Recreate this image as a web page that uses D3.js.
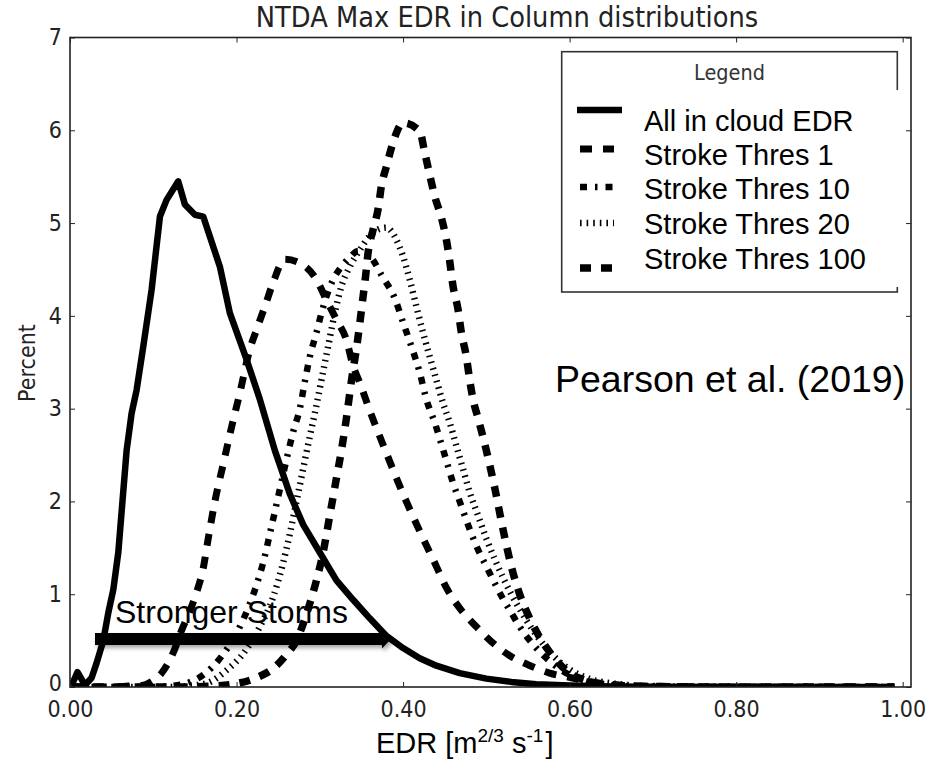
<!DOCTYPE html>
<html>
<head>
<meta charset="utf-8">
<script src="https://cdn.jsdelivr.net/npm/d3@7"></script>
<style>
  body { margin: 0; background: #fff; }
  svg { display: block; }
</style>
</head>
<body>
<svg id="chart" width="929" height="765"></svg>
<script>
// ---- data -------------------------------------------------------------
const xTicks = [0.0, 0.2, 0.4, 0.6, 0.8, 1.0];
const yTicks = [0, 1, 2, 3, 4, 5, 6, 7];
const legendLabels = ["All in cloud EDR", "Stroke Thres 1", "Stroke Thres 10", "Stroke Thres 20", "Stroke Thres 100"];

// [EDR, percent] pairs for each distribution
const allCloud = [[0.002,0.02],[0.009,0.16],[0.018,0.02],[0.026,0.1],[0.032,0.26],[0.040,0.5],[0.046,0.8],[0.052,1.05],[0.058,1.45],[0.063,2.0],[0.068,2.55],[0.074,2.95],[0.080,3.2],[0.088,3.67],[0.098,4.28],[0.108,5.07],[0.116,5.25],[0.130,5.45],[0.138,5.20],[0.150,5.09],[0.160,5.07],[0.180,4.53],[0.192,4.03],[0.212,3.53],[0.228,3.10],[0.246,2.55],[0.264,2.08],[0.28,1.75],[0.30,1.45],[0.32,1.15],[0.34,0.94],[0.36,0.74],[0.38,0.55],[0.40,0.42],[0.42,0.31],[0.44,0.23],[0.468,0.15],[0.50,0.09],[0.53,0.055],[0.56,0.03],[0.60,0.015],[0.65,0.006],[0.70,0.002],[0.80,0.0],[0.99,0.0]];
const thres1 = [[0.002,0.0],[0.05,0.0],[0.07,0.01],[0.088,0.02],[0.10,0.07],[0.110,0.15],[0.118,0.26],[0.124,0.37],[0.134,0.61],[0.144,0.82],[0.152,1.02],[0.160,1.28],[0.166,1.6],[0.174,2.0],[0.184,2.4],[0.194,2.8],[0.204,3.17],[0.216,3.64],[0.224,3.85],[0.234,4.10],[0.244,4.36],[0.258,4.61],[0.276,4.57],[0.296,4.39],[0.308,4.17],[0.320,3.96],[0.332,3.74],[0.340,3.46],[0.348,3.28],[0.36,2.98],[0.38,2.52],[0.40,2.08],[0.42,1.68],[0.44,1.3],[0.452,1.07],[0.468,0.85],[0.488,0.65],[0.506,0.49],[0.526,0.35],[0.550,0.24],[0.576,0.15],[0.602,0.1],[0.63,0.05],[0.66,0.02],[0.70,0.008],[0.80,0.0],[0.99,0.0]];
const thres10 = [[0.002,0],[0.10,0.0],[0.12,0.01],[0.140,0.04],[0.160,0.13],[0.182,0.33],[0.204,0.65],[0.224,1.1],[0.232,1.34],[0.24,1.65],[0.25,2.05],[0.26,2.45],[0.268,2.75],[0.276,3.0],[0.282,3.29],[0.288,3.56],[0.296,3.82],[0.302,4.03],[0.308,4.21],[0.316,4.39],[0.326,4.53],[0.336,4.63],[0.346,4.70],[0.356,4.68],[0.364,4.60],[0.374,4.44],[0.390,4.19],[0.400,3.93],[0.410,3.67],[0.420,3.39],[0.428,3.10],[0.438,2.85],[0.45,2.5],[0.46,2.2],[0.47,1.95],[0.48,1.7],[0.49,1.48],[0.50,1.3],[0.51,1.12],[0.52,0.95],[0.53,0.8],[0.54,0.65],[0.56,0.42],[0.58,0.25],[0.60,0.13],[0.62,0.06],[0.65,0.02],[0.70,0.005],[0.80,0],[0.99,0]];
const thres20 = [[0.002,0],[0.12,0],[0.14,0.01],[0.164,0.04],[0.188,0.18],[0.208,0.36],[0.228,0.65],[0.244,0.97],[0.256,1.34],[0.264,1.65],[0.272,2.0],[0.28,2.35],[0.288,2.7],[0.294,2.95],[0.302,3.31],[0.310,3.67],[0.318,4.03],[0.326,4.32],[0.336,4.53],[0.348,4.71],[0.360,4.86],[0.370,4.93],[0.380,4.95],[0.392,4.82],[0.400,4.64],[0.408,4.39],[0.416,4.10],[0.424,3.82],[0.432,3.56],[0.440,3.31],[0.448,3.06],[0.456,2.85],[0.464,2.6],[0.472,2.35],[0.48,2.1],[0.49,1.85],[0.50,1.6],[0.51,1.38],[0.52,1.18],[0.53,1.0],[0.54,0.84],[0.56,0.56],[0.58,0.34],[0.60,0.19],[0.62,0.1],[0.65,0.04],[0.70,0.01],[0.80,0],[0.99,0]];
const thres100 = [[0.002,0],[0.14,0],[0.17,0.01],[0.196,0.03],[0.224,0.1],[0.244,0.2],[0.260,0.35],[0.272,0.5],[0.280,0.68],[0.288,0.9],[0.296,1.15],[0.304,1.45],[0.312,1.85],[0.320,2.25],[0.326,2.55],[0.332,2.9],[0.338,3.3],[0.345,3.71],[0.352,4.21],[0.355,4.43],[0.358,4.68],[0.364,4.93],[0.370,5.15],[0.374,5.40],[0.380,5.61],[0.388,5.87],[0.400,6.08],[0.420,5.99],[0.426,5.76],[0.432,5.52],[0.438,5.29],[0.446,5.06],[0.452,4.82],[0.456,4.59],[0.460,4.32],[0.466,4.07],[0.470,3.82],[0.476,3.56],[0.480,3.31],[0.484,3.10],[0.490,2.90],[0.50,2.55],[0.51,2.15],[0.52,1.7],[0.53,1.3],[0.54,1.0],[0.55,0.78],[0.56,0.6],[0.58,0.33],[0.60,0.15],[0.62,0.07],[0.65,0.02],[0.70,0.005],[0.80,0],[0.99,0]];

const seriesData = [allCloud, thres1, thres10, thres20, thres100];

// ---- styles -------------------------------------------------------------
const lineStyles = [
  { width: 6.5, dash: null,        curve: d3.curveLinear },
  { width: 7,   dash: "12,11",     curve: d3.curveMonotoneX },
  { width: 6.5, dash: "7,8,2.5,8", curve: d3.curveMonotoneX },
  { width: 6.5, dash: "1.6,5",     curve: d3.curveMonotoneX },
  { width: 7.5, dash: "11,10",     curve: d3.curveMonotoneX }
];

const svg = d3.select("#chart");
const plot = { left: 70, right: 911, top: 37.5, bottom: 687 };
const x = d3.scaleLinear().domain([0, 1.01]).range([plot.left, plot.right]);
const y = d3.scaleLinear().domain([0, 7]).range([plot.bottom, plot.top]);

const mplFont = "'DejaVu Sans', sans-serif";
const arialFont = "'Liberation Sans', Arial, sans-serif";
const squeeze = 0.92;

const defs = svg.append("defs");
defs.append("clipPath").attr("id", "plotClip")
  .append("rect")
  .attr("x", plot.left).attr("y", plot.top)
  .attr("width", plot.right - plot.left).attr("height", plot.bottom - plot.top);

// ---- curves ------------------------------------------------------------
const curves = svg.append("g").attr("clip-path", "url(#plotClip)");
seriesData.forEach((data, i) => {
  const st = lineStyles[i];
  const line = d3.line().x(d => x(d[0])).y(d => y(d[1])).curve(st.curve);
  curves.append("path")
    .datum(data)
    .attr("d", line)
    .attr("fill", "none")
    .attr("stroke", "#000")
    .attr("stroke-width", st.width)
    .attr("stroke-linejoin", "round")
    .attr("stroke-linecap", "butt")
    .attr("stroke-dasharray", st.dash);
});

// ---- axes ------------------------------------------------------------------
function squeezeText(sel) {
  sel.selectAll(".tick text").each(function () {
    const t = d3.select(this);
    const tx = +t.attr("x") || 0, ty = +t.attr("y") || 0;
    t.attr("x", null).attr("y", null)
     .attr("transform", `translate(${tx},${ty}) scale(${squeeze},1)`);
  });
}

const gy = svg.append("g").attr("transform", `translate(${plot.left},0)`)
  .call(d3.axisLeft(y).tickValues(yTicks).tickFormat(d3.format("d"))
        .tickSizeInner(-5).tickSizeOuter(0).tickPadding(8));
const gx = svg.append("g").attr("transform", `translate(0,${plot.bottom})`)
  .call(d3.axisBottom(x).tickValues(xTicks).tickFormat(d3.format(".2f"))
        .tickSizeInner(-5).tickSizeOuter(0).tickPadding(14));
const gt = svg.append("g").attr("transform", `translate(0,${plot.top})`)
  .call(d3.axisTop(x).tickValues(xTicks).tickFormat("").tickSizeInner(-5).tickSizeOuter(0));
const gr = svg.append("g").attr("transform", `translate(${plot.right},0)`)
  .call(d3.axisRight(y).tickValues(yTicks).tickFormat("").tickSizeInner(-5).tickSizeOuter(0));

[gy, gx, gt, gr].forEach(g => {
  g.select(".domain").remove();
  g.selectAll(".tick line").attr("stroke", "#222").attr("stroke-width", 1);
  g.selectAll(".tick text").attr("fill", "#222")
    .style("font-family", mplFont).style("font-size", "22.5px");
  squeezeText(g);
});
// lift the corner "0" label so it clears "0.00"
gy.selectAll(".tick text").filter(d => d === 0)
  .attr("transform", `translate(-8,-4) scale(${squeeze},1)`);

svg.append("rect")
  .attr("x", plot.left).attr("y", plot.top)
  .attr("width", plot.right - plot.left).attr("height", plot.bottom - plot.top)
  .attr("fill", "none").attr("stroke", "#222").attr("stroke-width", 1.6);

// ---- titles ------------------------------------------------------------
svg.append("text")
  .attr("transform", `translate(507,27) scale(${squeeze},1)`)
  .attr("text-anchor", "middle")
  .style("font-family", mplFont).style("font-size", "28px").attr("fill", "#222")
  .text("NTDA Max EDR in Column distributions");

svg.append("text")
  .attr("transform", `translate(35,363) rotate(-90) scale(${squeeze},1)`)
  .attr("text-anchor", "middle")
  .style("font-family", mplFont).style("font-size", "22.5px").attr("fill", "#222")
  .text("Percent");

const xl = svg.append("text")
  .attr("x", 376).attr("y", 753)
  .style("font-family", arialFont).style("font-size", "29px").attr("fill", "#000");
xl.append("tspan").text("EDR [m");
xl.append("tspan").attr("dy", -11).style("font-size", "19px").text("2/3");
xl.append("tspan").attr("dy", 11).text(" s");
xl.append("tspan").attr("dy", -11).style("font-size", "19px").text("-1");
xl.append("tspan").attr("dy", 11).attr("dx", 2).text("]");

// ---- legend --------------------------------------------------------------
const lg = svg.append("g");
lg.append("rect")
  .attr("x", 561.7).attr("y", 51.7).attr("width", 335.6).attr("height", 240.3)
  .attr("fill", "#fff").attr("stroke", "#333").attr("stroke-width", 1.6);
lg.append("rect")
  .attr("x", 894).attr("y", 90).attr("width", 6).attr("height", 197).attr("fill", "#fff");
lg.append("text")
  .attr("transform", `translate(729.5,80) scale(${squeeze},1)`)
  .attr("text-anchor", "middle")
  .style("font-family", mplFont).style("font-size", "21px").attr("fill", "#333")
  .text("Legend");

const sampleY = [110, 149, 187, 223, 268];
const textY = [131, 164.5, 198.5, 233.5, 268.5];
legendLabels.forEach((label, i) => {
  const st = lineStyles[i];
  const x0 = i === 0 ? 577 : 580, x1 = i === 0 ? 622 : 614;
  lg.append("line")
    .attr("x1", x0).attr("x2", x1).attr("y1", sampleY[i]).attr("y2", sampleY[i])
    .attr("stroke", "#000").attr("stroke-width", st.width)
    .attr("stroke-dasharray", st.dash);
  lg.append("text")
    .attr("x", 644).attr("y", textY[i])
    .style("font-family", arialFont).style("font-size", "29px").attr("fill", "#000")
    .text(label);
});

// ---- annotations ----------------------------------------------------------
svg.append("text")
  .attr("x", 555).attr("y", 392)
  .style("font-family", arialFont).style("font-size", "37.5px").attr("fill", "#000")
  .text("Pearson et al. (2019)");

const soft = defs.append("filter").attr("id", "soft")
  .attr("x", "-10%").attr("y", "-100%").attr("width", "120%").attr("height", "300%");
soft.append("feGaussianBlur").attr("stdDeviation", 2);

const arrowPts = [[95,633],[382,633],[382,630.5],[391,639],[382,648.5],[382,645],[95,645]];
svg.append("polygon")
  .attr("points", arrowPts.map(p => [p[0] + 2, p[1] + 3].join(",")).join(" "))
  .attr("fill", "#000").attr("opacity", 0.35).attr("filter", "url(#soft)");
svg.append("polygon")
  .attr("points", arrowPts.map(p => p.join(",")).join(" "))
  .attr("fill", "#000");

svg.append("text")
  .attr("x", 115).attr("y", 622.5)
  .style("font-family", arialFont).style("font-size", "32px").attr("fill", "#000")
  .text("Stronger Storms");
</script>
</body>
</html>
